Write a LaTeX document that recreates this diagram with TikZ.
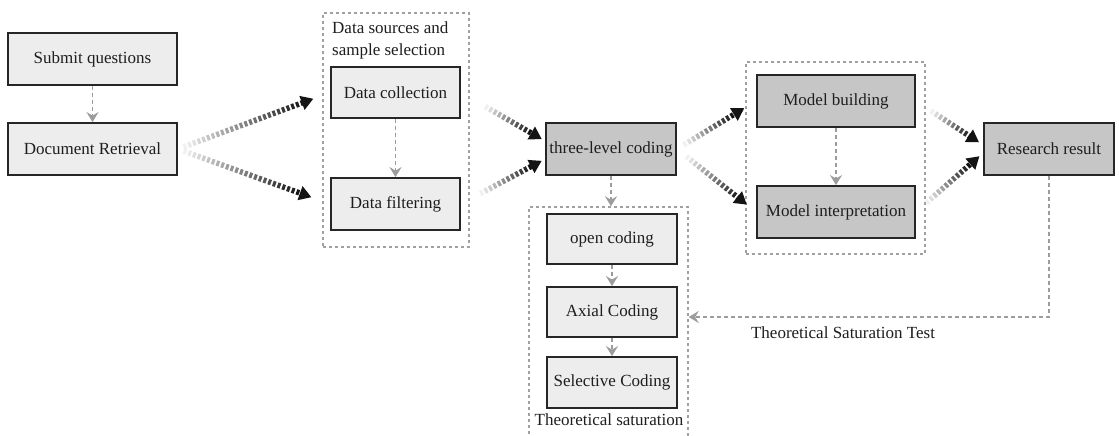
\documentclass[tikz,border=0pt]{standalone}
\usepackage{fontspec}
\setmainfont{Liberation Serif}
\usetikzlibrary{calc,arrows.meta}
\definecolor{lightfill}{HTML}{EDEDED}
\definecolor{darkfill}{HTML}{C6C6C6}
\definecolor{boxline}{HTML}{262626}
\definecolor{grpline}{HTML}{A0A0A0}
\definecolor{arrgray}{HTML}{9C9C9C}
\definecolor{txt}{HTML}{1E1E1E}
\newcommand\fadearrow[4]{%
  \coordinate (fa-s) at ($(#1)!#3pt!(#2)$);
  \coordinate (fa-e) at ($(#2)!#4pt!(#1)$);
  \coordinate (fa-b) at ($(fa-e)!12pt!(fa-s)$);
  \path let \p1=($(fa-b)-(fa-s)$) in \pgfextra{\pgfmathtruncatemacro\fatmp{veclen(\x1,\y1)/5}\global\let\fan\fatmp};
  \foreach \i in {0,...,\fan}{%
    \pgfmathsetmacro\faa{5*\i}%
    \pgfmathsetmacro\fab{5*\i+3}%
    \pgfmathtruncatemacro\fac{6+86*(\i/\fan)}%
    \draw[line width=5.5pt, black!\fac] ($(fa-s)!\faa pt!(fa-b)$) -- ($(fa-s)!\fab pt!(fa-b)$);
  }%
  \fill[black!92] (fa-e) -- ($(fa-b)!7.5pt!90:(fa-e)$) -- ($(fa-b)!7.5pt!-90:(fa-e)$) -- cycle;
}
\begin{document}
\begin{tikzpicture}[x=1pt,y=-1pt, font=\fontsize{17}{20}\selectfont, text=txt,
  box/.style={draw=boxline, line width=1.8pt, fill=lightfill, inner sep=0pt, minimum height=52pt},
  dbox/.style={box, fill=darkfill},
  grp/.style={draw=grpline, line width=1.4pt, dash pattern=on 3pt off 3pt, inner sep=0pt},
  garrow/.style={draw=arrgray, line width=1.6pt, dash pattern=on 4pt off 3pt, -{Stealth[length=10pt,width=12pt,inset=3.5pt,fill=arrgray]}},
  lab/.style={inner sep=0pt}
  ]
\useasboundingbox (0,0) rectangle (1119,436);
\clip (0,0) rectangle (1119,436);
\fill[white] (0,0) rectangle (1119,436);

% groups
\node[grp, minimum width=146pt, minimum height=234pt] (g1) at (396,130) {};
\node[grp, minimum width=179pt, minimum height=192pt] (g2) at (835.5,158) {};
\node[grp, minimum width=159pt, minimum height=250pt] (g3) at (608.5,332) {};

% boxes
\node[box, minimum width=169pt] (sq) at (92.5,59) {Submit questions};
\node[box, minimum width=169pt] (doc) at (92.5,149) {Document Retrieval};
\node[box, minimum width=129pt, minimum height=51pt] (coll) at (395.5,92.5) {Data collection};
\node[box, minimum width=129pt] (filt) at (395.5,204) {Data filtering};
\node[dbox, minimum width=130pt] (three) at (611,149) {three-level coding};
\node[dbox, minimum width=158pt] (mb) at (836,101) {Model building};
\node[dbox, minimum width=158pt] (mi) at (836,212) {Model interpretation};
\node[dbox, minimum width=130pt] (rr) at (1049,149) {Research result};
\node[box, minimum width=130pt, minimum height=50pt] (oc) at (612,239) {open coding};
\node[box, minimum width=130pt, minimum height=50pt] (ax) at (612,312) {Axial Coding};
\node[box, minimum width=130pt, minimum height=51pt] (sc) at (612,382.5) {Selective Coding};

% labels
\node[lab, anchor=north west, align=left, font=\fontsize{17}{22}\selectfont] (g1lab) at (332,22) {Data sources and\\sample selection};
\node[lab, anchor=base] (g3lab) at (609,425) {Theoretical saturation};
\node[lab, anchor=base] (fblab) at (843,338) {Theoretical Saturation Test};

% gray dashed arrows
\draw[garrow] (sq.south) -- (doc.north);
\draw[garrow] (coll.south) -- (filt.north);
\draw[garrow] (mb.south) -- (mi.north);
\draw[garrow] (three.south) -- (three.south |- g3.north);
\draw[garrow] (oc.south) -- (ax.north);
\draw[garrow] (ax.south) -- (sc.north);
\coordinate (fbt) at ($(g3.east |- ax.east)+(0,5)$);
\draw[garrow] (rr.south) |- (fbt);

% fading arrows
\coordinate (t3a) at ($(three.west)+(0,-8)$);
\coordinate (t3b) at ($(three.west)+(0,10)$);
\coordinate (rra) at ($(rr.west)+(0,-4)$);
\coordinate (rrb) at ($(rr.west)+(0,4)$);
\fadearrow{doc.east}{coll.west}{6}{18}
\fadearrow{doc.east}{filt.west}{6}{20}
\fadearrow{coll.east}{t3a}{28}{4}
\fadearrow{filt.east}{t3b}{22}{4}
\fadearrow{three.east}{mb.west}{8}{14}
\fadearrow{three.east}{mi.west}{12}{12}
\fadearrow{mb.east}{rra}{18}{5}
\fadearrow{mi.east}{rrb}{14}{5}
\end{tikzpicture}
\end{document}
